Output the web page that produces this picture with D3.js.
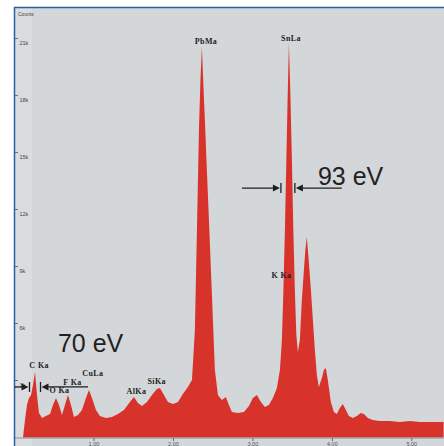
<!DOCTYPE html>
<html>
<head>
<meta charset="utf-8">
<script src="https://cdn.jsdelivr.net/npm/d3@7/dist/d3.min.js"></script>
<style>
  body { margin: 0; background: #fff; }
  svg { display: block; }
</style>
</head>
<body>
<svg id="chart"></svg>
<script>
// spectrum: energy in keV, counts in thousands
const energy = [0.107, 0.132, 0.157, 0.182, 0.208, 0.233, 0.258, 0.283, 0.308, 0.346,
  0.396, 0.447, 0.484, 0.522, 0.560, 0.597, 0.635, 0.673, 0.711, 0.748,
  0.799, 0.849, 0.899, 0.937, 0.975, 1.025, 1.075, 1.151, 1.226, 1.302,
  1.377, 1.453, 1.503, 1.553, 1.604, 1.667, 1.730, 1.792, 1.830, 1.881,
  1.931, 1.994, 2.057, 2.119, 2.182, 2.233, 2.270, 2.296, 2.321, 2.340,
  2.358, 2.377, 2.396, 2.421, 2.447, 2.472, 2.497, 2.522, 2.560, 2.610,
  2.660, 2.698, 2.736, 2.811, 2.887, 2.950, 3.000, 3.050, 3.101, 3.151,
  3.201, 3.252, 3.302, 3.340, 3.365, 3.384, 3.403, 3.421, 3.434, 3.453,
  3.472, 3.491, 3.509, 3.528, 3.547, 3.566, 3.591, 3.616, 3.642, 3.660,
  3.679, 3.704, 3.730, 3.755, 3.780, 3.805, 3.830, 3.868, 3.893, 3.918,
  3.943, 3.981, 4.019, 4.057, 4.094, 4.132, 4.170, 4.208, 4.258, 4.308,
  4.358, 4.396, 4.447, 4.509, 4.597, 4.723, 4.849, 4.975, 5.101, 5.252, 5.400];
const counts = [0.0, 0.92, 1.71, 2.08, 2.24, 2.76, 3.45, 2.24, 1.29, 1.03,
  1.13, 1.24, 1.71, 2.08, 1.71, 1.18, 1.71, 2.24, 1.71, 1.08,
  1.18, 1.45, 2.08, 2.50, 2.08, 1.45, 1.13, 1.03, 1.08, 1.24,
  1.45, 1.87, 2.13, 1.82, 1.66, 1.87, 2.24, 2.55, 2.61, 2.24,
  1.87, 1.76, 1.87, 2.29, 2.66, 3.03, 5.66, 10.92, 16.18, 18.8,
  20.55, 18.55, 16.7, 14.08, 11.45, 8.82, 6.18, 3.55, 2.24, 1.97,
  2.13, 1.71, 1.34, 1.29, 1.34, 1.66, 2.08, 2.24, 1.87, 1.61,
  1.71, 2.08, 2.61, 3.55, 5.13, 7.76, 10.92, 14.6, 17.24, 20.76,
  18.03, 14.6, 10.92, 7.76, 5.39, 4.5, 5.13, 7.24, 8.82, 9.87,
  10.55, 9.24, 7.76, 6.18, 4.61, 3.29, 2.66, 3.13, 3.55, 3.66,
  3.03, 1.87, 1.34, 1.24, 1.55, 1.76, 1.45, 1.13, 1.03, 1.13,
  1.29, 1.24, 1.03, 0.92, 0.87, 0.87, 0.82, 0.87, 0.82, 0.82, 0.82];

const xTicks = [1, 2, 3, 4, 5];
const xTickLabels = ["1.00", "2.00", "3.00", "4.00", "5.00"];
const yTicks = [3, 6, 9, 12, 15, 18, 21];
const yTickLabels = ["3k", "6k", "9k", "12k", "15k", "18k", "21k"];

// peak names with the keV / kcounts point where each label sits
const peakNames = ["C Ka", "O Ka", "F Ka", "CuLa", "AlKa", "SiKa", "PbMa", "K Ka", "SnLa"];
const peakLabelE = [0.31, 0.566, 0.73, 0.987, 1.535, 1.79, 2.41, 3.36, 3.48];
const peakLabelC = [3.66, 2.34, 2.76, 3.24, 2.29, 2.82, 20.7, 8.4, 20.87];

const width = 444, height = 446;
const svg = d3.select("#chart").attr("width", width).attr("height", height);

const x = d3.scaleLinear().domain([0, 5.405]).range([14.5, 444]);
const y = d3.scaleLinear().domain([0, 22.66]).range([437.5, 7]);

// plot background
svg.append("rect").attr("x", 14).attr("y", 7).attr("width", width - 14).attr("height", height - 7)
  .attr("fill", "#d4d7da");
svg.append("rect").attr("x", 15).attr("y", 7).attr("width", 17).attr("height", height - 7)
  .attr("fill", "#dadcdf");

// spectrum
const pts = energy.map((e, i) => [e, counts[i]]);
const area = d3.area()
  .x(d => x(d[0]))
  .y0(y(0))
  .y1(d => y(d[1]));
svg.append("path").datum(pts).attr("d", area).attr("fill", "#d8332b");

// x axis
const xAxis = svg.append("g").attr("transform", `translate(0,${y(0) + 0.5})`);
xAxis.append("line").attr("x1", 14).attr("x2", width).attr("stroke", "#8d9299").attr("stroke-width", 1);
xTicks.forEach((t, i) => {
  xAxis.append("line").attr("x1", x(t)).attr("x2", x(t)).attr("y1", 0).attr("y2", 3)
    .attr("stroke", "#666");
  xAxis.append("text").attr("x", x(t)).attr("y", 8).attr("text-anchor", "middle")
    .attr("font-family", "Liberation Sans, Arial, sans-serif").attr("font-size", 5.5)
    .attr("fill", "#555").text(xTickLabels[i]);
});

// y axis ticks
yTicks.forEach((t, i) => {
  svg.append("line").attr("x1", 14).attr("x2", 18).attr("y1", y(t)).attr("y2", y(t))
    .attr("stroke", "#555").attr("stroke-width", 0.8);
  svg.append("text").attr("x", 19.5).attr("y", y(t) + 6).attr("font-family", "Liberation Sans, Arial, sans-serif")
    .attr("font-size", 5.5).attr("fill", "#444").text(yTickLabels[i]);
});
svg.append("text").attr("x", 18).attr("y", 16).attr("font-family", "Liberation Sans, Arial, sans-serif")
  .attr("font-size", 5).attr("fill", "#444").text("Counts");

// frame
svg.append("line").attr("x1", 14).attr("x2", width).attr("y1", 7.5).attr("y2", 7.5)
  .attr("stroke", "#2a5fa6").attr("stroke-width", 1.5);
svg.append("line").attr("x1", 14.5).attr("x2", 14.5).attr("y1", 7).attr("y2", height)
  .attr("stroke", "#2a5fa6").attr("stroke-width", 1.5);

// peak labels
peakNames.forEach((n, i) => {
  svg.append("text").attr("x", x(peakLabelE[i])).attr("y", y(peakLabelC[i]))
    .attr("text-anchor", "middle").attr("font-family", "Liberation Serif, Times New Roman, serif")
    .attr("font-weight", "bold").attr("font-size", 8).attr("letter-spacing", 0.4)
    .attr("fill", "#1e1e1e").text(n);
});

// resolution annotations
function arrowPair(c, e0, eTipL, eTipR, e1) {
  const g = svg.append("g").attr("stroke", "#1e1e1e").attr("fill", "#1e1e1e");
  const yy = y(c);
  const xl = x(eTipL), xr = x(eTipR);
  g.append("line").attr("x1", x(e0)).attr("x2", xl - 6).attr("y1", yy).attr("y2", yy).attr("stroke-width", 1.3);
  g.append("path").attr("d", `M${xl},${yy}L${xl - 7},${yy - 3.5}L${xl - 7},${yy + 3.5}Z`).attr("stroke", "none");
  g.append("line").attr("x1", xl + 1).attr("x2", xl + 1).attr("y1", yy - 5).attr("y2", yy + 5).attr("stroke-width", 1.3);
  g.append("line").attr("x1", xr + 6).attr("x2", x(e1)).attr("y1", yy).attr("y2", yy).attr("stroke-width", 1.3);
  g.append("path").attr("d", `M${xr},${yy}L${xr + 7},${yy - 3.5}L${xr + 7},${yy + 3.5}Z`).attr("stroke", "none");
  g.append("line").attr("x1", xr - 1).attr("x2", xr - 1).attr("y1", yy - 5).attr("y2", yy + 5).attr("stroke-width", 1.3);
}
arrowPair(2.66, 0.0, 0.176, 0.34, 0.925);
arrowPair(13.13, 2.862, 3.34, 3.541, 4.119);

svg.append("text").attr("x", x(0.547)).attr("y", y(4.5)).attr("font-family", "Liberation Sans, Arial, sans-serif")
  .attr("font-size", 25).attr("fill", "#222").text("70 eV");
svg.append("text").attr("x", x(3.818)).attr("y", y(13.3)).attr("font-family", "Liberation Sans, Arial, sans-serif")
  .attr("font-size", 25).attr("fill", "#222").text("93 eV");
</script>
</body>
</html>
